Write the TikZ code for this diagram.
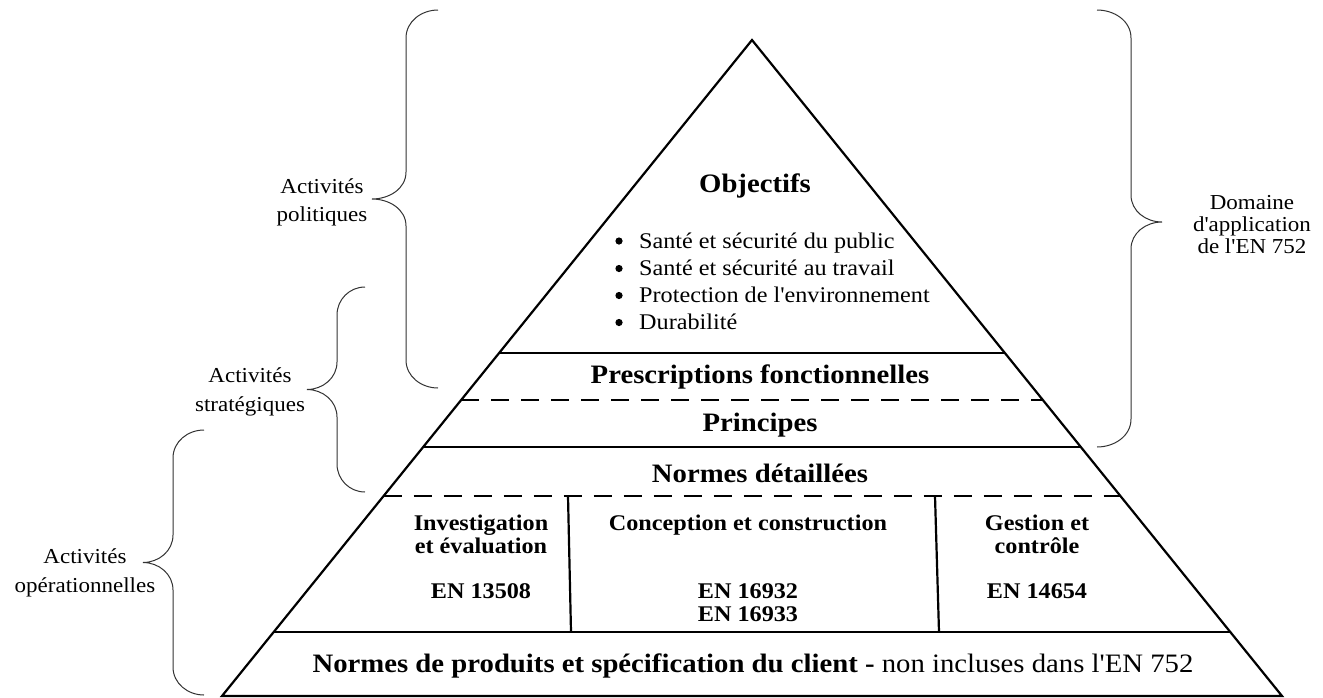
\documentclass[tikz,border=0pt]{standalone}
\usepackage{fontspec}
\setmainfont{Liberation Serif}[FakeStretch=1.08, Ligatures=TeXOff]
\usetikzlibrary{calc}
\begin{document}
\begin{tikzpicture}[x=1pt,y=-1pt,
  pyr/.style={line width=2.2pt, draw=black},
  dashline/.style={line width=2.4pt, draw=black, dash pattern=on 18pt off 12pt},
  brace/.style={line width=1pt, draw=black!80},
  bul/.style={fill=black, radius=3.6pt},
  head/.style={font=\bfseries\fontsize{26.6}{30}\selectfont, anchor=base, inner sep=0pt},
  sub/.style={font=\bfseries\fontsize{22.4}{25}\selectfont, anchor=base, inner sep=0pt},
  side/.style={font=\fontsize{21.3}{24}\selectfont, anchor=base, inner sep=0pt},
  item/.style={font=\fontsize{22.4}{25}\selectfont, anchor=base west, inner sep=0pt},
]
\useasboundingbox (0,0) rectangle (1323,697);

% pyramid
\coordinate (apex) at (752,40);
\coordinate (BL) at (222,696);
\coordinate (BR) at (1282,696);
\draw[pyr, line join=miter] (BL) -- (apex) -- (BR) -- cycle;
\draw[pyr] ($(apex)!0.4767!(BL)$) -- ($(apex)!0.4767!(BR)$);
\draw[dashline] ($(apex)!0.5488!(BL)$) -- ($(apex)!0.5488!(BR)$);
\draw[pyr] ($(apex)!0.6204!(BL)$) -- ($(apex)!0.6204!(BR)$);
\draw[dashline] ($(apex)!0.6951!(BL)$) -- ($(apex)!0.6951!(BR)$);
\draw[pyr] ($(apex)!0.9024!(BL)$) -- ($(apex)!0.9024!(BR)$);
\coordinate (d1t) at (568,496);
\coordinate (d1b) at (571,632);
\coordinate (d2t) at (935,496);
\coordinate (d2b) at (939,632);
\draw[pyr] (d1t) -- (d1b);
\draw[pyr] (d2t) -- (d2b);

% braces
\draw[brace] (438,10) to[out=180,in=90] (406,38) -- (406,172) to[out=-90,in=0] (372,199)
  to[out=0,in=90] (406,226) -- (406,360) to[out=-90,in=180] (438,388);
\draw[brace] (365,287) to[out=180,in=90] (337,315) -- (337,362) to[out=-90,in=0] (307,389.5)
  to[out=0,in=90] (337,417) -- (337,464) to[out=-90,in=180] (365,492);
\draw[brace] (204,430) to[out=180,in=90] (173,458) -- (173,535) to[out=-90,in=0] (143,562.5)
  to[out=0,in=90] (173,590) -- (173,667) to[out=-90,in=180] (204,695);
\draw[brace] (1097,10) to[out=0,in=90] (1131,38) -- (1131,195) to[out=-90,in=180] (1162,222)
  to[out=180,in=90] (1131,249) -- (1131,419) to[out=-90,in=0] (1097,447);

% texts
\node[head] (obj) at (755,192) {Objectifs};
\node[item] (i1) at (639,248) {Santé et sécurité du public};
\node[item] (i2) at (639,275.5) {Santé et sécurité au travail};
\node[item] (i3) at (639,302.5) {Protection de l'environnement};
\node[item] (i4) at (639,329.5) {Durabilité};
\fill[bul] (619,241) circle;
\fill[bul] (619,268.5) circle;
\fill[bul] (619,295.5) circle;
\fill[bul] (619,322.5) circle;

\node[head] (presc) at (760,383) {Prescriptions fonctionnelles};
\node[head] (princ) at (760,431) {Principes};
\node[head] (normd) at (760,482) {Normes détaillées};

\node[sub] (inv1) at (481,530) {Investigation};
\node[sub] (inv2) at (481,553) {et évaluation};
\node[sub] (inv3) at (481,598) {EN 13508};
\node[sub] (con1) at (748,530) {Conception et construction};
\node[sub] (con2) at (748,598) {EN 16932};
\node[sub] (con3) at (748,621) {EN 16933};
\node[sub] (ges1) at (1037,530) {Gestion et};
\node[sub] (ges2) at (1037,553) {contrôle};
\node[sub] (ges3) at (1037,598) {EN 14654};

\node[head] (prod) at (753,672) {Normes de produits et spécification du client -\mdseries\ non incluses dans l'EN 752};

\node[side] (pol1) at (322,193) {Activités};
\node[side] (pol2) at (322,221.5) {politiques};
\node[side] (str1) at (250,382) {Activités};
\node[side] (str2) at (250,411) {stratégiques};
\node[side] (ope1) at (85,563) {Activités};
\node[side] (ope2) at (85,592) {opérationnelles};
\node[side] (dom1) at (1252,209) {Domaine};
\node[side] (dom2) at (1252,231.5) {d'application};
\node[side] (dom3) at (1252,253) {de l'EN 752};
\end{tikzpicture}
\end{document}
